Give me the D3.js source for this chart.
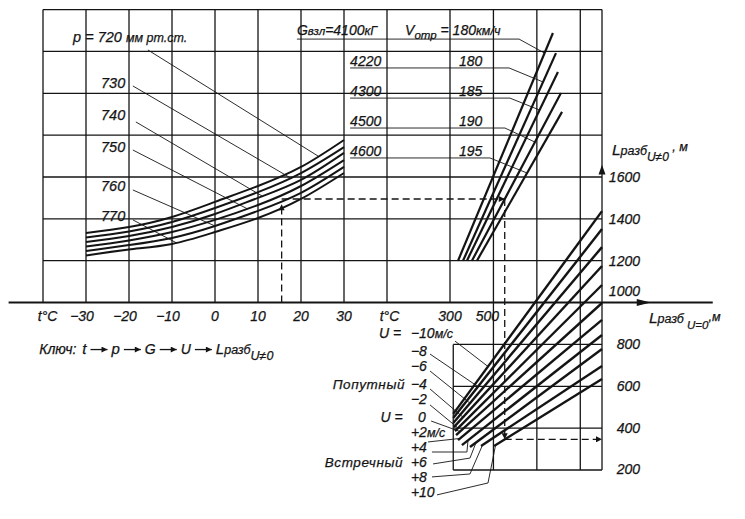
<!DOCTYPE html>
<html><head><meta charset="utf-8">
<script src="https://d3js.org/d3.v7.min.js"></script>
<style>
html,body{margin:0;padding:0;background:#fff;}
svg{display:block;}
text{font-family:"Liberation Sans",Arial,sans-serif;font-style:italic;fill:#141414;stroke:#141414;stroke-width:0.25px;}
</style></head>
<body><svg id="chart" width="745" height="519"></svg>
<script>
// ---------------- data ----------------
const tempGrid   = [-40,-30,-20,-10,0,10,20,30,40];
const tempTicks  = [-30,-20,-10,0,10,20,30];
const curveTemps = [-30,-20,-10,0,10,20,30];
const pressures  = [720,730,740,750,760,770];
const p720 = [1332,1361,1409,1481,1557,1648,1777];
const p730 = [1311,1340,1385,1452,1528,1619,1743];
const p740 = [1289,1318,1361,1423,1500,1586,1715];
const p750 = [1268,1297,1337,1395,1466,1557,1681];
const p760 = [1246,1275,1309,1366,1438,1524,1648];
const p770 = [1225,1254,1280,1337,1404,1495,1619];
const weights  = [4100,4220,4300,4500,4600];
const speeds   = [180,180,185,190,195];
const gStartL0 = [337,360,378,401,424];
const gStartH  = [1200,1200,1200,1200,1200];
const gEndL0   = [774,788,797,811,816];
const gEndH    = [2288,2192,2102,2001,1911];
const winds    = [-10,-8,-6,-4,-2,0,2,4,6,8,10];
const uStartL0 = [315,315,315,318,323,328,337,355,392,443,503];
const uStartL  = [468,448,425,405,386,367,343,319,310,315,315];
const uEndL0   = [1000,1000,1000,1000,1000,1000,1000,1000,1000,1000,1000];
const uEndL    = [1437,1351,1265,1175,1084,998,917,845,778,697,635];
const lTicks   = [200,400,600,800,1000,1200,1400,1600];
const l0Ticks  = [300,500];
const topGridH = [1200,1400,1600,1800,2000,2200,2400];
const lowGridL = [200,400,600,800];
const l0GridTop = [300,500,700,900,1000];
const l0GridLowLeft = 315;
const keyT = 15.5, keyH = 1495, keyGIndex = 3, keyUIndex = 10;

// ---------------- scales ----------------
const svg = d3.select('#chart');
const ink = '#141414';
const xT = d3.scaleLinear().domain([-40,40]).range([43,387]);
const xR = d3.scaleLinear().domain([300,1000]).range([450,602]);
const y  = d3.scaleLinear().domain([200,1600]).range([470,177]);

const pSeries = [p720,p730,p740,p750,p760,p770];
const curveAt = (i,t) => d3.scaleLinear().domain(curveTemps).range(pSeries[i])(t);
const gAt = (i,h) => { const f=(h-gStartH[i])/(gEndH[i]-gStartH[i]); return [gStartL0[i]+f*(gEndL0[i]-gStartL0[i]), h]; };
const uAt = (i,l0) => { const f=(l0-uStartL0[i])/(uEndL0[i]-uStartL0[i]); return [l0, uStartL[i]+f*(uEndL[i]-uStartL[i])]; };

const defs = svg.append('defs');
defs.append('marker').attr('id','ah').attr('viewBox','0 0 10 10').attr('refX',10).attr('refY',5)
  .attr('markerWidth',10).attr('markerHeight',6).attr('markerUnits','userSpaceOnUse').attr('orient','auto')
  .append('path').attr('d','M0,0L10,5L0,10z').attr('fill',ink);

// ---------------- grid ----------------
const grid = svg.append('g').attr('stroke',ink).attr('stroke-width',1.3).attr('fill','none');
topGridH.forEach(h => grid.append('line').attr('x1',xT(-40)).attr('x2',xR(1000)).attr('y1',y(h)).attr('y2',y(h)));
tempGrid.forEach(t => grid.append('line').attr('x1',xT(t)).attr('x2',xT(t)).attr('y1',y(2400)).attr('y2',y(1000)));
l0GridTop.forEach(v => grid.append('line').attr('x1',xR(v)).attr('x2',xR(v)).attr('y1',y(2400)).attr('y2',v===300?y(1000):y(200)));
lowGridL.forEach(l => grid.append('line').attr('x1',xR(l0GridLowLeft)).attr('x2',xR(1000)).attr('y1',y(l)).attr('y2',y(l)));
grid.append('line').attr('x1',xR(l0GridLowLeft)).attr('x2',xR(l0GridLowLeft)).attr('y1',y(800)).attr('y2',y(200));

// main axis
svg.append('line').attr('x1',xT(-48)).attr('x2',xR(1510)).attr('y1',y(1000)).attr('y2',y(1000)).attr('stroke',ink).attr('stroke-width',2);
svg.append('path').attr('fill',ink)
  .attr('d',`M${xR(1225)},${y(1000)}L${xR(1160)},${y(1000)-3.5}L${xR(1160)},${y(1000)+3.5}Z`);
svg.append('path').attr('fill',ink)
  .attr('d',`M${xR(1000)},${y(1658)}L${xR(1000)-3.5},${y(1612)}L${xR(1000)+3.5},${y(1612)}Z`);

// ---------------- p curves ----------------
const line = d3.line().x(d=>xT(d[0])).y(d=>y(d[1])).curve(d3.curveNatural);
pSeries.forEach(s => svg.append('path').attr('d',line(curveTemps.map((t,j)=>[t,s[j]])))
  .attr('fill','none').attr('stroke',ink).attr('stroke-width',2));

// p leaders and labels
const pLeadStart = [[-15.6,2207],[-19.1,2035],[-18.4,1863],[-19.1,1729],[-19.1,1538],[-19.1,1395]];
const pLeadEndT  = [24,17.5,11,7.5,0,-9];
pressures.forEach((p,i)=>{
  svg.append('line').attr('x1',xT(pLeadStart[i][0])).attr('y1',y(pLeadStart[i][1]))
    .attr('x2',xT(pLeadEndT[i])).attr('y2',y(curveAt(i,pLeadEndT[i])))
    .attr('stroke',ink).attr('stroke-width',0.9);
});
const pLabelH = [2245,2025,1872,1719,1533,1390];
pressures.forEach((p,i)=>{
  if(i===0){
    const t=svg.append('text').attr('x',xT(-33)).attr('y',y(pLabelH[0])).style('font-size','14.5px');
    t.append('tspan').text('p = '+p+' ');
    t.append('tspan').style('font-size','12.5px').text('мм рт.ст.');
  } else {
    svg.append('text').attr('x',xT(-26.5)).attr('y',y(pLabelH[i])).style('font-size','14.5px').text(p);
  }
});

// ---------------- G lines ----------------
weights.forEach((w,i)=>{
  svg.append('line').attr('x1',xR(gStartL0[i])).attr('y1',y(gStartH[i]))
    .attr('x2',xR(gEndL0[i])).attr('y2',y(gEndH[i])).attr('stroke',ink).attr('stroke-width',2.2);
});
const gRowBase = [2278,2130,1987,1844,1700];
const gUnderH  = [2259,2121,1977,1834,1691];
const gUnderFrom = [-405,-160,-160,-160,-160];
const gUnderTo   = [618,572,576,553,484];
const gLeadEndH  = [2192,2054,1920,1767,1619];
weights.forEach((w,i)=>{
  const e = gAt(i,gLeadEndH[i]);
  svg.append('path').attr('fill','none').attr('stroke',ink).attr('stroke-width',0.9)
    .attr('d',`M${xR(gUnderFrom[i])},${y(gUnderH[i])}L${xR(gUnderTo[i])},${y(gUnderH[i])}L${xR(e[0])},${y(e[1])}`);
  if(i===0){
    const t=svg.append('text').attr('x',xR(-405)).attr('y',y(gRowBase[0])).style('font-size','14px');
    t.append('tspan').text('G');
    t.append('tspan').style('font-size','11.5px').text('взл');
    t.append('tspan').text('='+w);
    t.append('tspan').style('font-size','12.5px').text('кГ');
    const v=svg.append('text').attr('x',xR(93)).attr('y',y(gRowBase[0])).style('font-size','14px');
    v.append('tspan').text('V');
    v.append('tspan').attr('dy',4).style('font-size','11.5px').text('отр');
    v.append('tspan').attr('dy',-4).text(' = '+speeds[i]);
    v.append('tspan').style('font-size','12.5px').text('км/ч');
  } else {
    svg.append('text').attr('x',xR(-160)).attr('y',y(gRowBase[i])).style('font-size','14px').text(w);
    svg.append('text').attr('x',xR(341)).attr('y',y(gRowBase[i])).style('font-size','14px').text(speeds[i]);
  }
});

// ---------------- U lines ----------------
winds.forEach((u,i)=>{
  svg.append('line').attr('x1',xR(uStartL0[i])).attr('y1',y(uStartL[i]))
    .attr('x2',xR(uEndL0[i])).attr('y2',y(uEndL[i])).attr('stroke',ink).attr('stroke-width',2.4);
});
const uLead = [
  [[323,816]],[[208,754]],[[208,673]],[[208,587]],[[208,511]],[[213,434]],[[199,334]],
  [[217,286],[378,286]],[[222,229],[392,257]],[[217,167],[392,181]],[[240,81],[475,138]]
];
const uLeadEndL0 = [475,429,392,360,337,346,346,383,420,450,510];
winds.forEach((u,i)=>{
  const pts = uLead[i].concat([uAt(i,uLeadEndL0[i])]);
  svg.append('path').attr('fill','none').attr('stroke',ink).attr('stroke-width',0.9)
    .attr('d','M'+pts.map(p=>xR(p[0])+','+y(p[1])).join('L'));
});
const uLabelH = [832,745,674,587,515,429,358,286,214,143,71];
winds.forEach((u,i)=>{
  const s = u===0 ? '0' : (u<0 ? '−'+Math.abs(u) : '+'+u);
  const t = svg.append('text').attr('x',xR(u===0?153:120)).attr('y',y(uLabelH[i])).style('font-size','14px');
  t.append('tspan').text(s);
  if(u===-10||u===2) t.append('tspan').style('font-size','12.5px').text('м/с');
});
svg.append('text').attr('x',xR(-27)).attr('y',y(uLabelH[0])).style('font-size','14px').text('U =');
svg.append('text').attr('x',xR(-20)).attr('y',y(uLabelH[5])).style('font-size','14px').text('U =');
svg.append('text').attr('x',xR(93)).attr('y',y(uLabelH[3])).attr('text-anchor','end').style('font-size','13.5px').style('letter-spacing','0.6px').text('Попутный');
svg.append('text').attr('x',xR(84)).attr('y',y(uLabelH[8])).attr('text-anchor','end').style('font-size','13.5px').style('letter-spacing','0.6px').text('Встречный');

// ---------------- axis labels ----------------
const tl = 912;
tempTicks.forEach(t=>{
  svg.append('text').attr('x',xT(t)).attr('dx',t<0?-4:0).attr('y',y(tl)).attr('text-anchor','middle').style('font-size','14px')
    .text(t<0?'−'+Math.abs(t):t);
});
svg.append('text').attr('x',xT(-41.2)).attr('y',y(tl)).style('font-size','14px').text('t°C');
svg.append('text').attr('x',xT(38.3)).attr('y',y(tl)).style('font-size','14px').text('t°C');
l0Ticks.forEach(v=>{
  svg.append('text').attr('x',xR(v)).attr('dx',v===500?-6:0).attr('y',y(tl)).attr('text-anchor','middle').style('font-size','14px').text(v);
});
lTicks.forEach(l=>{
  const off = l===1000 ? -7 : (l===200 ? 4 : 5);
  svg.append('text').attr('x',xR(1000)+38).attr('y',y(l)+off).attr('text-anchor','end').style('font-size','14px').text(l);
});
{
  const t=svg.append('text').attr('x',xR(1046)).attr('y',y(1705));
  t.append('tspan').style('font-size','15.5px').text('L');
  t.append('tspan').style('font-size','12.5px').text('разб');
  t.append('tspan').attr('dy',6).style('font-size','12px').text('U≠0');
  t.append('tspan').attr('dy',-10).style('font-size','12.5px').text(' , м');
}
{
  const t=svg.append('text').attr('x',xR(1216)).attr('y',y(902));
  t.append('tspan').style('font-size','15.5px').text('L');
  t.append('tspan').style('font-size','12.5px').text('разб');
  t.append('tspan').attr('dy',6).style('font-size','11.5px').text(' U=0');
  t.append('tspan').attr('dy',-8).style('font-size','12.5px').text(',м');
}

// ---------------- key (dashed example) ----------------
const kH = keyH;
const gPt = gAt(keyGIndex,kH);
const uPt = uAt(keyUIndex,gPt[0]);
const dash = {stroke:ink,'stroke-width':1.3,'stroke-dasharray':'7,4',fill:'none'};
function dl(x1,y1,x2,y2,arrow){
  const l=svg.append('line').attr('x1',x1).attr('y1',y1).attr('x2',x2).attr('y2',y2);
  Object.entries(dash).forEach(([k,v])=>l.attr(k,v));
  if(arrow) l.attr('marker-end','url(#ah)');
}
dl(xT(keyT),y(1000),xT(keyT),y(kH-25),true);
dl(xT(keyT),y(kH),xR(gPt[0]),y(kH),true);
dl(xR(gPt[0]),y(kH),xR(gPt[0]),y(uPt[1]),true);
dl(xR(gPt[0]),y(uPt[1]),xR(1000),y(uPt[1]),true);

// key text line
{
  const by = y(754);
  let cx = xT(-40.9);
  const piece=(s,size,dy)=>{ const t=svg.append('text').attr('x',cx).attr('y',by+(dy||0)).style('font-size',size).text(s); cx+=t.node().getComputedTextLength(); };
  const arrow=()=>{ svg.append('line').attr('x1',cx+4).attr('x2',cx+21).attr('y1',by-4.5).attr('y2',by-4.5)
      .attr('stroke',ink).attr('stroke-width',1.3).attr('marker-end','url(#ah)'); cx+=25; };
  piece('Ключ:','14px'); cx+=6;
  piece('t','15px'); arrow();
  piece('p','15px'); arrow();
  piece('G','14px'); arrow();
  piece('U','14px'); arrow();
  piece('L','15px'); piece('разб','12.5px'); piece('U≠0','12.5px',6);
}
</script></body></html>
